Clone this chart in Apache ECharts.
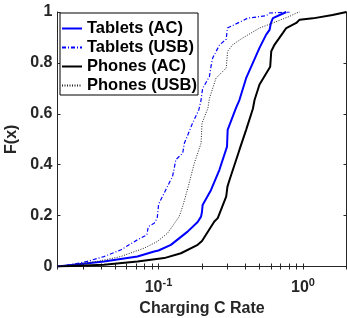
<!DOCTYPE html>
<html>
<head>
<meta charset="utf-8">
<script src="https://cdn.jsdelivr.net/npm/echarts@6/dist/echarts.min.js"></script>
<style>
  html, body { margin: 0; padding: 0; background: #fff; }
  #chart { width: 347px; height: 318px; }
</style>
</head>
<body>
<div id="chart"></div>
<script>
// CDF curves (x = charging C rate, F = cumulative fraction)
const tabletsAcX  = [0.02, 0.0419, 0.0715, 0.0933, 0.1, 0.1218, 0.159, 0.1866, 0.197, 0.2, 0.202, 0.231, 0.264, 0.298, 0.301, 0.344, 0.363, 0.404, 0.5, 0.556, 0.587, 0.6, 0.619, 0.766];
const tabletsAcF  = [0, 0.02, 0.039, 0.059, 0.063, 0.085, 0.137, 0.175, 0.196, 0.215, 0.242, 0.301, 0.38, 0.471, 0.537, 0.623, 0.654, 0.74, 0.859, 0.911, 0.93, 0.957, 0.976, 1];

const tabletsUsbX = [0.02, 0.0246, 0.0321, 0.0419, 0.0547, 0.0715, 0.083, 0.085, 0.0933, 0.098, 0.1, 0.101, 0.112, 0.119, 0.125, 0.132, 0.147, 0.151, 0.172, 0.19, 0.197, 0.202, 0.225, 0.231, 0.237, 0.264, 0.294, 0.3, 0.415, 0.556, 0.587, 0.81];
const tabletsUsbF = [0, 0.007, 0.02, 0.039, 0.065, 0.105, 0.124, 0.157, 0.17, 0.19, 0.24, 0.249, 0.3, 0.33, 0.353, 0.42, 0.445, 0.484, 0.563, 0.615, 0.654, 0.7, 0.746, 0.787, 0.819, 0.87, 0.893, 0.937, 0.976, 0.985, 0.996, 1];

const phonesAcX   = [0.02, 0.0419, 0.0715, 0.1095, 0.143, 0.1866, 0.2, 0.202, 0.2435, 0.257, 0.294, 0.298, 0.3, 0.31, 0.363, 0.404, 0.45, 0.462, 0.5, 0.593, 0.603, 0.636, 0.726, 0.766, 0.899, 0.948, 1.17, 1.6, 2];
const phonesAcF   = [0, 0.007, 0.02, 0.033, 0.052, 0.085, 0.1, 0.105, 0.177, 0.19, 0.275, 0.3, 0.314, 0.34, 0.458, 0.537, 0.62, 0.654, 0.715, 0.785, 0.846, 0.872, 0.918, 0.937, 0.957, 0.97, 0.975, 0.988, 1];

const phonesUsbX  = [0.02, 0.0377, 0.0547, 0.0795, 0.098, 0.1155, 0.139, 0.147, 0.16, 0.177, 0.197, 0.2, 0.22, 0.225, 0.25, 0.294, 0.301, 0.327, 0.383, 0.5, 0.619, 0.808, 0.899, 0.95];
const phonesUsbF  = [0, 0.02, 0.039, 0.072, 0.098, 0.131, 0.196, 0.236, 0.31, 0.406, 0.484, 0.563, 0.623, 0.66, 0.74, 0.78, 0.846, 0.872, 0.898, 0.937, 0.957, 0.983, 0.996, 1];

const seriesNames = ['Tablets (AC)', 'Tablets (USB)', 'Phones (AC)', 'Phones (USB)'];

// axis ticks
const xMin = 0.02;
const xMax = 2;
const xTickValues = [0.02, 0.03, 0.04, 0.05, 0.06, 0.07, 0.08, 0.09, 0.1, 0.2, 0.3, 0.4, 0.5, 0.6, 0.7, 0.8, 0.9, 1, 2];
const xLabelValues = [0.1, 1];
const xLabelExps = { 0.1: '-1', 1: '0' };

const zip = (xs, ys) => xs.map((x, i) => [x, ys[i]]);

const axisColor = '#262626';
const font = 'Liberation Sans, Arial, sans-serif';

let chart = echarts.init(document.getElementById('chart'));

const xBase = {
  type: 'log',
  logBase: 10,
  min: xMin,
  max: xMax,
  axisLine: { show: true, lineStyle: { color: axisColor, width: 1 } },
  axisTick: { show: true, inside: true, length: 3, customValues: xTickValues, lineStyle: { color: axisColor } },
  splitLine: { show: false },
  minorTick: { show: false },
}

const yBase = {
  type: 'value',
  min: 0,
  max: 1,
  interval: 0.2,
  axisLine: { show: true, lineStyle: { color: axisColor, width: 1 } },
  axisTick: { show: true, inside: true, length: 3, lineStyle: { color: axisColor } },
  splitLine: { show: false },
}

const option = {
  animation: false,
  backgroundColor: '#fff',
  grid: { left: 57.5, right: 0.5, top: 12, bottom: 51.5, outerBoundsMode: 'none', containLabel: false },
  legend: {
    orient: 'vertical',
    left: 60,
    top: 13,
    data: seriesNames,
    itemWidth: 20,
    itemHeight: 14,
    itemGap: 2,
    padding: [7, 1, 1, 1],
    borderColor: '#000',
    borderWidth: 1,
    borderRadius: 0,
    backgroundColor: '#fff',
    itemStyle: { opacity: 0 },
    textStyle: { fontFamily: font, fontWeight: 'bold', fontSize: 16.5, color: '#000' },
  },
  xAxis: [
    {
      ...xBase,
      position: 'bottom',
      name: 'Charging C Rate',
      nameLocation: 'middle',
      nameGap: 32,
      nameTextStyle: { fontFamily: font, fontWeight: 'bold', fontSize: 16, color: axisColor },
      axisLabel: {
        show: true,
        margin: 11,
        customValues: xLabelValues,
        formatter: (v) => '{b|10}{s|' + xLabelExps[v] + '}',
        rich: {
          b: { fontFamily: font, fontWeight: 'bold', fontSize: 16, color: axisColor },
          s: { fontFamily: font, fontWeight: 'bold', fontSize: 11, color: axisColor, padding: [0, 0, 9, 0] },
        }
      },
    },
    { ...xBase, position: 'top', axisLabel: { show: false } },
  ],
  yAxis: [
    {
      ...yBase,
      position: 'left',
      name: 'F(x)',
      nameLocation: 'middle',
      nameGap: 26,
      nameTextStyle: { fontFamily: font, fontWeight: 'bold', fontSize: 16, color: axisColor },
      axisLabel: { margin: 5, fontFamily: font, fontWeight: 'bold', fontSize: 16, color: axisColor },
    },
    { ...yBase, position: 'right', axisLabel: { show: false } },
  ],
  series: [
    {
      name: seriesNames[0], type: 'line', symbol: 'none', data: zip(tabletsAcX, tabletsAcF),
      lineStyle: { color: '#0000ff', width: 2 }, itemStyle: { color: '#0000ff' },
    },
    {
      name: seriesNames[1], type: 'line', symbol: 'none', data: zip(tabletsUsbX, tabletsUsbF),
      lineStyle: { color: '#0000ff', width: 1.2, type: [4, 2, 1, 2] }, itemStyle: { color: '#0000ff' },
    },
    {
      name: seriesNames[2], type: 'line', symbol: 'none', data: zip(phonesAcX, phonesAcF),
      lineStyle: { color: '#000', width: 2 }, itemStyle: { color: '#000' },
    },
    {
      name: seriesNames[3], type: 'line', symbol: 'none', data: zip(phonesUsbX, phonesUsbF),
      lineStyle: { color: '#222', width: 1, type: [1, 1.5] }, itemStyle: { color: '#222' },
    },
  ]
}

chart.setOption(option);
</script>
</body>
</html>
